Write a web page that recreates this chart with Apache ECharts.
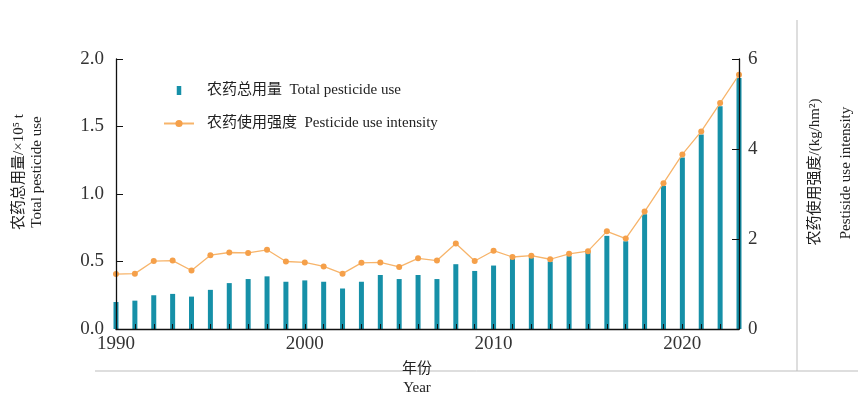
<!DOCTYPE html>
<html>
<head>
<meta charset="utf-8">
<script src="https://cdn.jsdelivr.net/npm/echarts@6/dist/echarts.min.js"></script>
<style>
  html, body { margin: 0; padding: 0; background: #fff; }
  #main { width: 858px; height: 408px; }
</style>
</head>
<body>
<div id="main"></div>
<script>
const years = [1990, 1991, 1992, 1993, 1994, 1995, 1996, 1997, 1998, 1999,
  2000, 2001, 2002, 2003, 2004, 2005, 2006, 2007, 2008, 2009,
  2010, 2011, 2012, 2013, 2014, 2015, 2016, 2017, 2018, 2019,
  2020, 2021, 2022, 2023];
// 农药总用量 (×10^5 t)
const totalUse = [0.20, 0.21, 0.25, 0.26, 0.24, 0.29, 0.34, 0.37, 0.39, 0.35,
  0.36, 0.35, 0.30, 0.35, 0.40, 0.37, 0.40, 0.37, 0.48, 0.43,
  0.47, 0.52, 0.53, 0.50, 0.54, 0.57, 0.69, 0.65, 0.85, 1.06,
  1.27, 1.44, 1.65, 1.86];
// 农药使用强度 (kg/hm2)
const intensity = [1.22, 1.23, 1.51, 1.52, 1.30, 1.64, 1.70, 1.69, 1.76, 1.50,
  1.48, 1.39, 1.23, 1.47, 1.48, 1.38, 1.57, 1.52, 1.90, 1.51,
  1.74, 1.60, 1.63, 1.55, 1.67, 1.73, 2.17, 2.01, 2.61, 3.24,
  3.88, 4.39, 5.02, 5.65];
const xLabels = [1990, 2000, 2010, 2020];
const leftTicks = ["0.0", "0.5", "1.0", "1.5", "2.0"];

const serif = "'Liberation Serif', 'Noto Sans CJK SC', serif";
const barName = "农药总用量  Total pesticide use";
const lineName = "农药使用强度  Pesticide use intensity";

const chart = echarts.init(document.getElementById("main"));

const option = {
  backgroundColor: "#fff",
  animation: false,
  grid: { left: 116, right: 119, top: 59, bottom: 79 },
  legend: {
    orient: "vertical",
    left: 158,
    top: 78,
    itemWidth: 30,
    itemHeight: 9,
    itemGap: 18,
    textStyle: { fontFamily: serif, fontSize: 15, color: "#222", padding: [0, 0, 0, 8] },
    data: [
      { name: barName, icon: "path://M0,0h4v8h-4z" },
      { name: lineName },
    ],
  },
  xAxis: {
    type: "value",
    min: 1990,
    max: 2023,
    interval: 1,
    z: 5,
    splitLine: { show: false },
    axisLine: { lineStyle: { color: "#111", width: 1.3 } },
    axisTick: { inside: true, length: 5, lineStyle: { color: "#111" } },
    axisLabel: {
      margin: 6,
      fontFamily: serif,
      fontSize: 19,
      color: "#333",
      formatter: (v) => (xLabels.indexOf(v) >= 0 ? String(v) : ""),
    },
  },
  yAxis: [
    {
      type: "value",
      min: 0,
      max: 2,
      interval: 0.5,
      z: 5,
      splitLine: { show: false },
      axisLine: { show: true, lineStyle: { color: "#111", width: 1.3 } },
      axisTick: { show: true, inside: true, length: 7, lineStyle: { color: "#111" } },
      axisLabel: {
        margin: 12,
        fontFamily: serif,
        fontSize: 19,
        color: "#333",
        formatter: (v) => leftTicks[Math.round(v * 2)],
      },
    },
    {
      type: "value",
      min: 0,
      max: 6,
      interval: 2,
      position: "right",
      z: 5,
      splitLine: { show: false },
      axisLine: { show: true, lineStyle: { color: "#111", width: 1.3 } },
      axisTick: { show: true, inside: true, length: 7, lineStyle: { color: "#111" } },
      axisLabel: { margin: 9, fontFamily: serif, fontSize: 19, color: "#333" },
    },
  ],
  graphic: [
    { type: "line", shape: { x1: 95, y1: 371, x2: 858, y2: 371 }, style: { stroke: "#bdbdbd", lineWidth: 1 }, silent: true },
    { type: "line", shape: { x1: 797, y1: 20, x2: 797, y2: 371 }, style: { stroke: "#bdbdbd", lineWidth: 1 }, silent: true },
    { type: "text", x: 19, y: 172, rotation: Math.PI / 2,
      style: { text: "农药总用量/×10⁵ t", font: "15px " + serif, fill: "#222", align: "center", verticalAlign: "middle" } },
    { type: "text", x: 37, y: 172, rotation: Math.PI / 2,
      style: { text: "Total pesticide use", font: "15px " + serif, fill: "#222", align: "center", verticalAlign: "middle" } },
    { type: "text", x: 815, y: 172, rotation: Math.PI / 2,
      style: { text: "农药使用强度/(kg/hm²)", font: "15px " + serif, fill: "#222", align: "center", verticalAlign: "middle" } },
    { type: "text", x: 846, y: 173, rotation: Math.PI / 2,
      style: { text: "Pestiside use intensity", font: "15px " + serif, fill: "#222", align: "center", verticalAlign: "middle" } },
    { type: "text", x: 417, y: 369,
      style: { text: "年份", font: "15px " + serif, fill: "#222", align: "center", verticalAlign: "middle" } },
    { type: "text", x: 417, y: 388,
      style: { text: "Year", font: "15px " + serif, fill: "#222", align: "center", verticalAlign: "middle" } },
  ],
  series: [
    {
      name: barName,
      type: "bar",
      yAxisIndex: 0,
      barWidth: 5,
      itemStyle: { color: "#1690a8" },
      data: years.map((y, i) => [y, totalUse[i]]),
    },
    {
      name: lineName,
      type: "line",
      yAxisIndex: 1,
      symbol: "circle",
      symbolSize: 6,
      lineStyle: { color: "#f7b46a", width: 1.3 },
      itemStyle: { color: "#f5a04a" },
      data: years.map((y, i) => [y, intensity[i]]),
    },
  ],
};

chart.setOption(option);
</script>
</body>
</html>
